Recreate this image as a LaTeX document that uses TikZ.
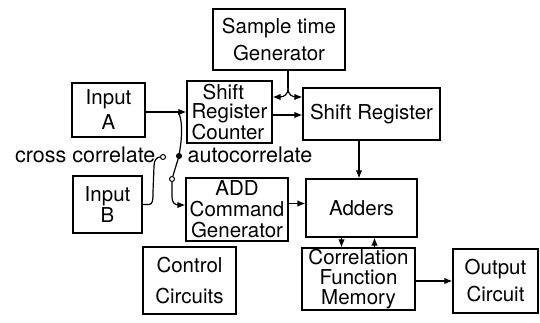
\documentclass[tikz,border=0pt]{standalone}
\usepackage{fontspec}
\setmainfont{TeX Gyre Heros}
\usetikzlibrary{arrows.meta,calc}

\begin{document}
\begin{tikzpicture}[x=1pt,y=-1pt,
  line width=1.2pt,
  blk/.style={draw, rectangle, inner sep=0pt, align=center,
              minimum width=#1},
  lh/.style={font=\fontsize{20.5}{#1}\selectfont},
  arr/.style={-{Latex[length=8pt,width=6.5pt]}},
  contact/.style={circle, draw, fill=white, inner sep=0pt, minimum size=5pt, line width=1pt},
  lbl/.style={font=\fontsize{21.5}{24}\selectfont, inner sep=0pt}
]
\useasboundingbox (0,0) rectangle (540,323);

% blocks
\node[blk=132, minimum height=61, lh=27] (samp) at (279,39.5) {Sample time\\Generator};
\node[blk=73,  minimum height=54, lh=25] (inA)  at (108.5,110) {Input\\A};
\node[blk=85,  minimum height=62, lh=19, align=left] (src) at (229.5,112)
     {\hspace*{11pt}Shift\\Register\\Counter};
\node[blk=137, minimum height=52, lh=22] (sr)   at (371.5,114) {Shift Register};
\node[blk=69,  minimum height=57, lh=21] (inB)  at (107.5,204.5) {Input\\B};
\node[blk=102, minimum height=63, lh=21] (add)  at (237,209.5) {ADD\\Command\\Generator};
\node[blk=111, minimum height=58, lh=22] (adders) at (361.5,208) {Adders};
\node[blk=113, minimum height=62, lh=20] (cfm)  at (358.5,279) {Correlation\\Function\\Memory};
\node[blk=85,  minimum height=64, lh=27] (out)  at (495.5,281) {Output\\Circuit};
\node[blk=93,  minimum height=67, lh=31] (ctrl) at (189.5,280.5) {Control\\Circuits};

% mode switch
\node[contact] (cc) at (163,157) {};
\node[contact, fill=black] (ac) at (179,156) {};
\node[contact] (piv) at (172,179) {};
\node[lbl, anchor=east] (cclbl) at (156,155) {cross correlate};
\node[lbl, anchor=west] (aclbl) at (187,155) {autocorrelate};

% signal paths
\coordinate (j) at (178,112);
\coordinate (fork) at (288,88);
\draw[arr] (inA.east |- src.west) -- (src.west);
\draw (j) .. controls (182,118) and (182,130) .. (181,142) -- (ac);
\draw (inB.east) -- (149,204.5) .. controls (153,204.5) and (153,199) .. (153,192)
      -- (154,166) .. controls (154,160) and (157,157) .. (cc);
\draw (piv) -- (ac);
\draw[arr] (piv) -- (172,197) .. controls (172,203) and (175,205) .. (179,205)
      -- (add.west |- 0,205);

\draw (samp.south -| fork) -- (fork);
\draw[arr] (fork) .. controls (288,95) and (284,97) .. (279,97) -- (src.east |- 0,97);
\draw[arr] (fork) .. controls (288,95) and (292,97) .. (297,97) -- (sr.west |- 0,97);
\draw[arr] (src.east |- 0,115) -- (sr.west |- 0,115);

\draw[arr] (sr.south -| 359,0) -- (adders.north -| 359,0);
\draw[arr] ([yshift=6pt]add.east) -- ([yshift=6pt]add.east -| adders.west);
\draw[arr] ([xshift=-20pt]adders.south) -- ([xshift=-20pt]adders.south |- cfm.north);
\draw[arr] ([xshift=16pt]cfm.north) -- ([xshift=16pt]cfm.north |- adders.south);
\draw[arr] (cfm.east |- out.west) -- (out.west);
\end{tikzpicture}
\end{document}
